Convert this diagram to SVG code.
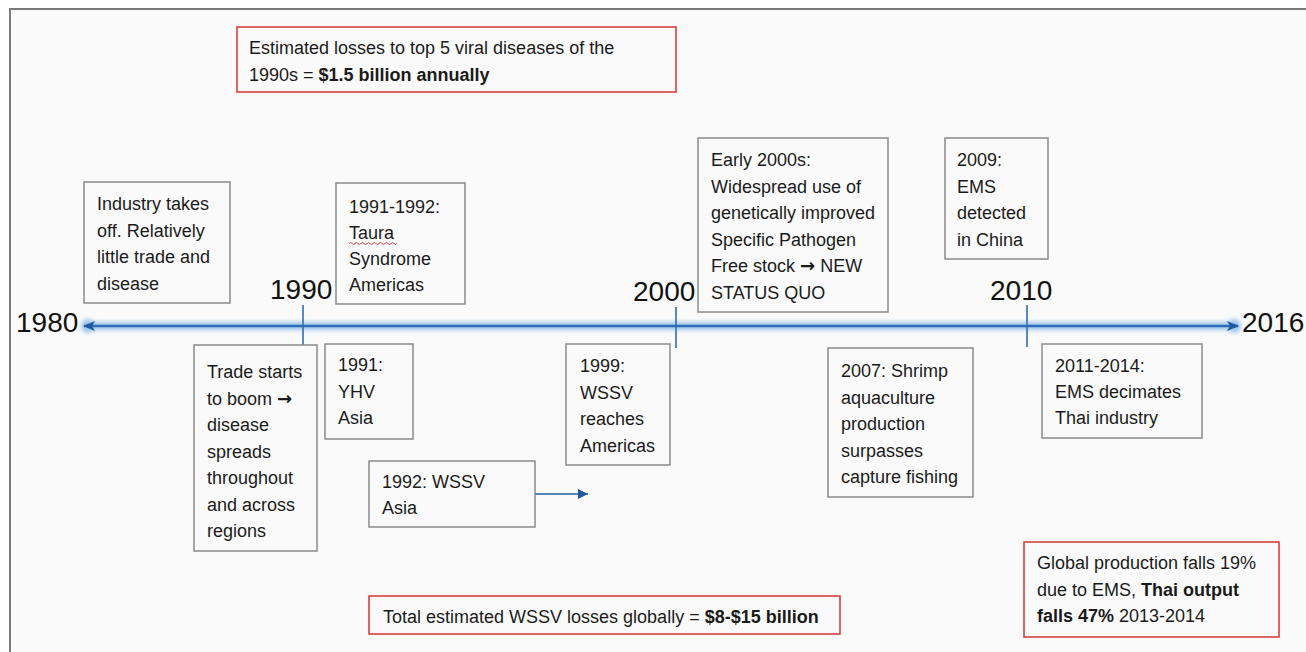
<svg xmlns="http://www.w3.org/2000/svg" width="1306" height="652" viewBox="0 0 1306 652">
<style>
  .box { fill: none; stroke: #8a8a8a; stroke-width: 1.5; }
  .rbox { fill: none; stroke: #d9403f; stroke-width: 1.6; }
  .t { font-family: "Liberation Sans", Arial, sans-serif; font-size: 18px; fill: #1a1a1a; }
  .b { font-weight: bold; }
  .arr { font-family: "DejaVu Sans", sans-serif; font-weight: bold; }
  .yr { font-family: "Liberation Sans", Arial, sans-serif; font-size: 28px; fill: #111; }
  .tick { stroke: #2f6db3; stroke-width: 1.6; }
</style>
<defs>
  <marker id="ah" viewBox="0 0 12 10" refX="11" refY="5" markerWidth="12" markerHeight="10" markerUnits="userSpaceOnUse" orient="auto-start-reverse">
    <path d="M0,0 L12,5 L0,10 L3,5 Z" fill="#1f5a9e"/>
  </marker>
  <marker id="ah2" viewBox="0 0 10 10" refX="10" refY="5" markerWidth="10" markerHeight="10" markerUnits="userSpaceOnUse" orient="auto">
    <path d="M0,0 L10,5 L0,10 Z" fill="#1f5a9e"/>
  </marker>
  <filter id="glow" filterUnits="userSpaceOnUse" x="60" y="300" width="1200" height="52">
    <feGaussianBlur stdDeviation="2"/>
  </filter>
</defs>
<rect x="0" y="0" width="1306" height="652" fill="#ffffff"/>
<rect x="10" y="9" width="1330" height="700" fill="#fafafa" stroke="#7a7a7a" stroke-width="2"/>

<g id="connectors">
  <g filter="url(#glow)">
    <line x1="88" y1="326" x2="1234" y2="326" stroke="#9cc4ee" stroke-width="8"/>
    <circle cx="88" cy="326" r="7" fill="#9cc4ee"/>
    <circle cx="1234" cy="326" r="7" fill="#9cc4ee"/>
  </g>
  <line x1="84" y1="326" x2="1238" y2="326" stroke="#2f6db3" stroke-width="2.5" marker-start="url(#ah)" marker-end="url(#ah)"/>
  <line class="tick" x1="303" y1="305" x2="303" y2="345"/>
  <line class="tick" x1="676" y1="307" x2="676" y2="348"/>
  <line class="tick" x1="1027" y1="305" x2="1027" y2="347"/>
  <line x1="535" y1="494" x2="588" y2="494" stroke="#1f5a9e" stroke-width="1.6" marker-end="url(#ah2)"/>
</g>

<g id="years">
  <text class="yr" x="16" y="332">1980</text>
  <text class="yr" x="270" y="299">1990</text>
  <text class="yr" x="633" y="301">2000</text>
  <text class="yr" x="990" y="300">2010</text>
  <text class="yr" x="1242" y="332">2016</text>
</g>

<g id="note-1990s">
  <rect class="rbox" x="237" y="27" width="439" height="65"/>
  <text class="t" x="249" y="54">Estimated losses to top 5 viral diseases of the</text>
  <text class="t" x="249" y="81">1990s = <tspan class="b">$1.5 billion annually</tspan></text>
</g>

<g id="industry">
  <rect class="box" x="84" y="182" width="146" height="121"/>
  <text class="t" x="97" y="210">Industry takes</text>
  <text class="t" x="97" y="236.5">off. Relatively</text>
  <text class="t" x="97" y="263">little trade and</text>
  <text class="t" x="97" y="289.5">disease</text>
</g>

<g id="taura">
  <rect class="box" x="336" y="183" width="129" height="121"/>
  <text class="t" x="349" y="213">1991-1992:</text>
  <text class="t" x="349" y="239">Taura</text>
  <path d="M349,243.5 q1.5,-2 3,0 t3,0 t3,0 t3,0 t3,0 t3,0 t3,0 t3,0 t3,0 t3,0 t3,0 t3,0 t3,0 t3,0 t3,0 t3,0" fill="none" stroke="#e03030" stroke-width="0.9"/>
  <text class="t" x="349" y="265">Syndrome</text>
  <text class="t" x="349" y="291">Americas</text>
</g>

<g id="early2000s">
  <rect class="box" x="698" y="138" width="190" height="174"/>
  <text class="t" x="711" y="166">Early 2000s:</text>
  <text class="t" x="711" y="192.5">Widespread use of</text>
  <text class="t" x="711" y="219">genetically improved</text>
  <text class="t" x="711" y="245.5">Specific Pathogen</text>
  <text class="t" x="711" y="272">Free stock <tspan class="arr">→</tspan> NEW</text>
  <text class="t" x="711" y="298.5">STATUS QUO</text>
</g>

<g id="ems2009">
  <rect class="box" x="945" y="138" width="103" height="121"/>
  <text class="t" x="957" y="166">2009:</text>
  <text class="t" x="957" y="192.5">EMS</text>
  <text class="t" x="957" y="219">detected</text>
  <text class="t" x="957" y="245.5">in China</text>
</g>

<g id="trade">
  <rect class="box" x="194" y="345" width="123" height="206"/>
  <text class="t" x="207" y="378">Trade starts</text>
  <text class="t" x="207" y="404.5">to boom <tspan class="arr">→</tspan></text>
  <text class="t" x="207" y="431">disease</text>
  <text class="t" x="207" y="457.5">spreads</text>
  <text class="t" x="207" y="484">throughout</text>
  <text class="t" x="207" y="510.5">and across</text>
  <text class="t" x="207" y="537">regions</text>
</g>

<g id="yhv1991">
  <rect class="box" x="325" y="344" width="88" height="95"/>
  <text class="t" x="338" y="371">1991:</text>
  <text class="t" x="338" y="398">YHV</text>
  <text class="t" x="338" y="424">Asia</text>
</g>

<g id="wssv1992">
  <rect class="box" x="369" y="461" width="166" height="66"/>
  <text class="t" x="382" y="488">1992: WSSV</text>
  <text class="t" x="382" y="514">Asia</text>
</g>

<g id="wssv1999">
  <rect class="box" x="566" y="344" width="104" height="121"/>
  <text class="t" x="580" y="372">1999:</text>
  <text class="t" x="580" y="398.5">WSSV</text>
  <text class="t" x="580" y="425">reaches</text>
  <text class="t" x="580" y="451.5">Americas</text>
</g>

<g id="shrimp2007">
  <rect class="box" x="828" y="348" width="145" height="149"/>
  <text class="t" x="841" y="377">2007: Shrimp</text>
  <text class="t" x="841" y="404">aquaculture</text>
  <text class="t" x="841" y="430">production</text>
  <text class="t" x="841" y="457">surpasses</text>
  <text class="t" x="841" y="483">capture fishing</text>
</g>

<g id="ems2011">
  <rect class="box" x="1042" y="344" width="160" height="94"/>
  <text class="t" x="1055" y="372">2011-2014:</text>
  <text class="t" x="1055" y="398">EMS decimates</text>
  <text class="t" x="1055" y="424">Thai industry</text>
</g>

<g id="note-wssv-total">
  <rect class="rbox" x="369" y="596" width="471" height="38"/>
  <text class="t" x="383" y="623">Total estimated WSSV losses globally = <tspan class="b">$8-$15 billion</tspan></text>
</g>

<g id="note-global">
  <rect class="rbox" x="1024" y="542" width="255" height="95"/>
  <text class="t" x="1037" y="569">Global production falls 19%</text>
  <text class="t" x="1037" y="596">due to EMS, <tspan class="b">Thai output</tspan></text>
  <text class="t" x="1037" y="622"><tspan class="b">falls 47%</tspan> 2013-2014</text>
</g>
</svg>
